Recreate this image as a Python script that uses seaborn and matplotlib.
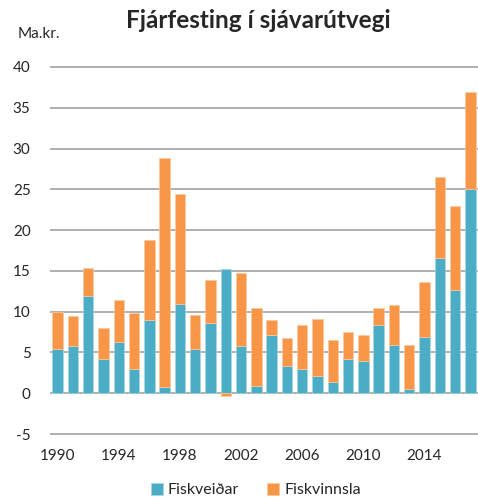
import numpy as np
import pandas as pd
import matplotlib
matplotlib.use("Agg")
import matplotlib.pyplot as plt
import seaborn as sns

years = list(range(1990, 2018))
fiskveidar = [5.45, 5.78, 11.9, 4.26, 6.27, 2.95, 9.0, 0.82, 10.98, 5.37,
              8.57, 15.2, 5.84, 0.88, 7.08, 3.32, 3.03, 2.09, 1.35, 4.18,
              4.01, 8.39, 5.94, 0.49, 6.88, 16.54, 12.69, 25.0]
fiskvinnsla = [4.55, 3.69, 3.5, 3.77, 5.16, 6.85, 9.77, 28.08, 13.42, 4.26,
               5.33, -0.37, 8.91, 9.57, 1.84, 3.43, 5.32, 7.04, 5.12, 3.27,
               3.15, 2.05, 4.91, 5.4, 6.79, 9.94, 10.31, 11.88]
yticks = [-5, 0, 5, 10, 15, 20, 25, 30, 35, 40]
xtick_years = [1990, 1994, 1998, 2002, 2006, 2010, 2014]

BLUE = "#4BACC6"
ORANGE = "#F79646"
FONT = ["Lato", "DejaVu Sans"]

sns.set_style("white")
plt.rcParams["font.family"] = FONT

df = pd.DataFrame({"year": [str(y) for y in years],
                   "Fiskveiðar": fiskveidar,
                   "Fiskvinnsla": fiskvinnsla})

fig = plt.figure(figsize=(4.78, 4.99), dpi=100)
ax = fig.add_axes([50 / 478, 0.122, 1 - 50 / 478, 0.752])

sns.barplot(data=df, x="year", y="Fiskveiðar", color=BLUE, saturation=1,
            width=0.69, edgecolor="#a9d5e1", linewidth=0.5, ax=ax, zorder=3,
            label="Fiskveiðar")
fv = np.array(fiskvinnsla)
bottoms = np.where(fv >= 0, np.array(fiskveidar), 0.0)
ax.bar(np.arange(len(years)), fv, bottom=bottoms, width=0.69, color=ORANGE,
       edgecolor="#fbc9a2", linewidth=0.5, zorder=3, label="Fiskvinnsla")
if ax.get_legend() is not None:
    ax.get_legend().remove()

ax.set_xlim(-0.5, len(years) - 0.5)
ax.set_ylim(-5.5, 40.5)
ax.set_yticks(yticks)
ax.set_yticklabels([str(t) for t in yticks], fontsize=11)
ax.set_xticks([years.index(y) for y in xtick_years])
ax.set_xticklabels([str(y) for y in xtick_years], fontsize=11)
ax.tick_params(axis="both", length=0)
ax.tick_params(axis="y", pad=14)
ax.tick_params(axis="x", pad=8)
for yv in yticks:
    ax.axhline(yv, color="#9a9a9a", lw=1.1, zorder=1)
for s in ax.spines.values():
    s.set_visible(False)
ax.set_xlabel("")
ax.set_ylabel("")
ax.grid(False)

fig.text(0.54, 0.958, "Fjárfesting í sjávarútvegi", ha="center", va="center",
         fontsize=17.5, fontweight="bold")
fig.text(18 / 478, 1 - 34 / 499, "Ma.kr.", ha="left", va="center", fontsize=11)

handles, labels = ax.get_legend_handles_labels()
leg = fig.legend(handles, labels, loc="center", bbox_to_anchor=(0.535, 0.018),
                 ncol=2, frameon=False, fontsize=11.5, handlelength=0.75,
                 handleheight=0.75, handletextpad=0.3, columnspacing=1.8,
                 borderaxespad=0)

fig.savefig("out.png", dpi=100)
